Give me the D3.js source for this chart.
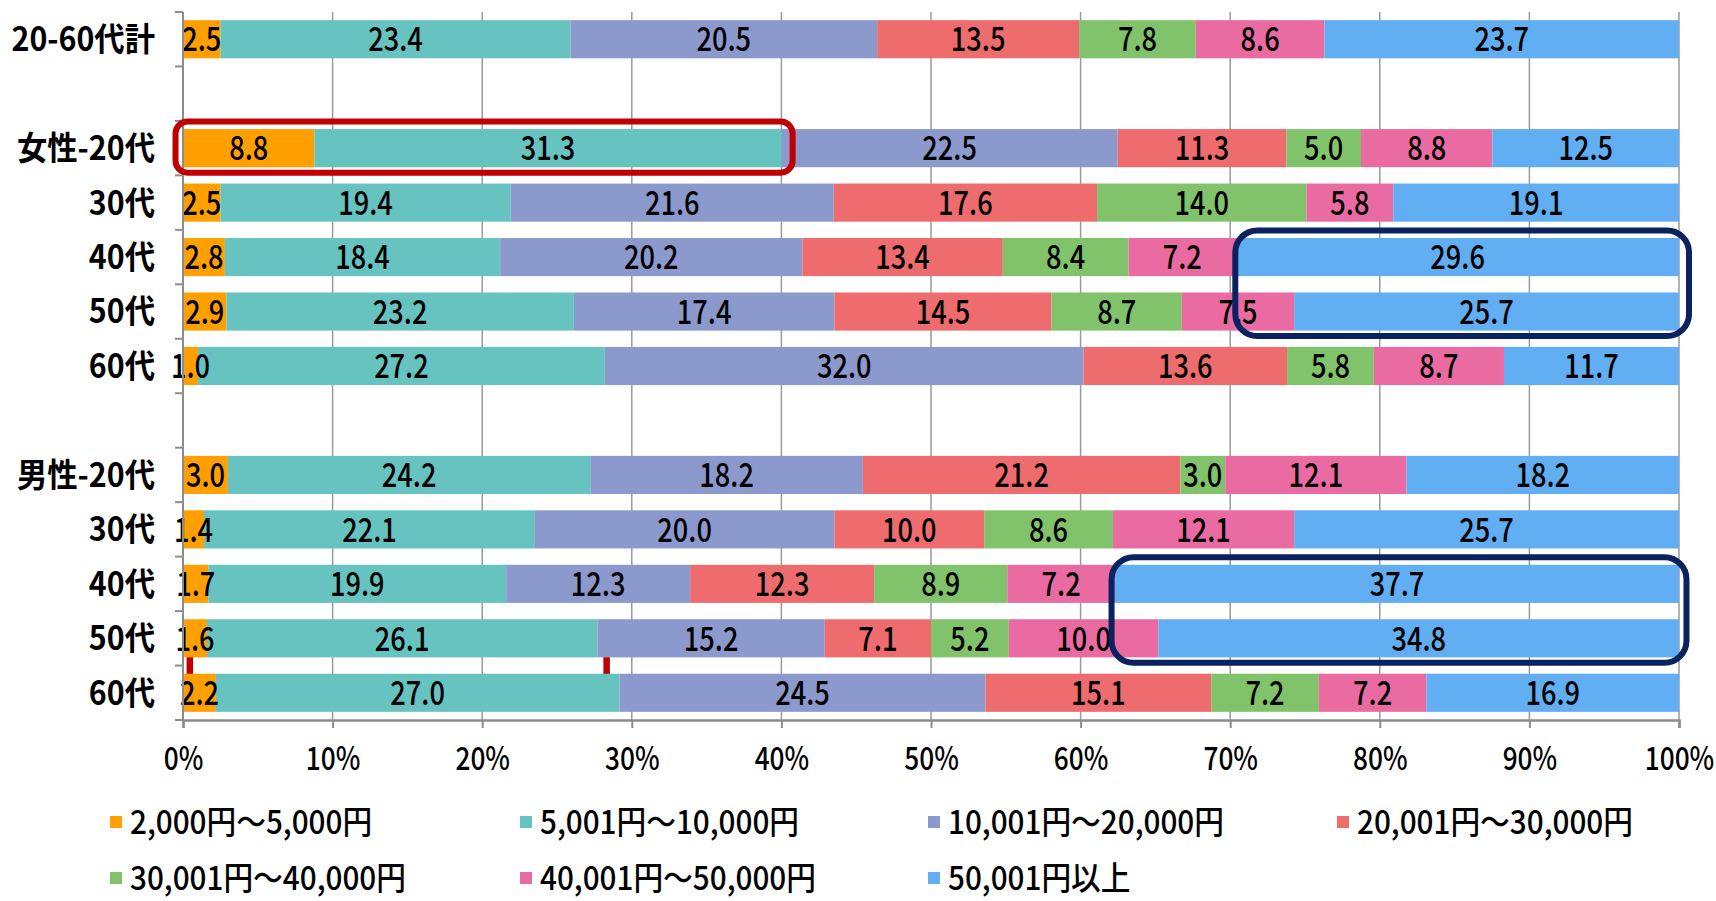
<!DOCTYPE html>
<html>
<head>
<meta charset="utf-8">
<script src="https://cdn.jsdelivr.net/npm/d3@7"></script>
<style>
  html, body { margin: 0; padding: 0; background: #fff; }
  svg { display: block; }
  text { font-family: "Noto Sans CJK JP", "Noto Sans", sans-serif; fill: #000; }
</style>
</head>
<body>
<svg id="chart" width="1716" height="901"></svg>
<script>
// Rows of the chart (empty strings are spacer rows between groups)
const categories = ["20-60代計", "", "女性-20代", "30代", "40代", "50代", "60代", "", "男性-20代", "30代", "40代", "50代", "60代"];

// Monthly amount brackets (series)
const seriesNames = ["2,000円～5,000円", "5,001円～10,000円", "10,001円～20,000円", "20,001円～30,000円", "30,001円～40,000円", "40,001円～50,000円", "50,001円以上"];

// Share (%) per bracket, one value per row
const yen2000to5000   = [2.5, null, 8.8, 2.5, 2.8, 2.9, 1.0, null, 3.0, 1.4, 1.7, 1.6, 2.2];
const yen5001to10000  = [23.4, null, 31.3, 19.4, 18.4, 23.2, 27.2, null, 24.2, 22.1, 19.9, 26.1, 27.0];
const yen10001to20000 = [20.5, null, 22.5, 21.6, 20.2, 17.4, 32.0, null, 18.2, 20.0, 12.3, 15.2, 24.5];
const yen20001to30000 = [13.5, null, 11.3, 17.6, 13.4, 14.5, 13.6, null, 21.2, 10.0, 12.3, 7.1, 15.1];
const yen30001to40000 = [7.8, null, 5.0, 14.0, 8.4, 8.7, 5.8, null, 3.0, 8.6, 8.9, 5.2, 7.2];
const yen40001to50000 = [8.6, null, 8.8, 5.8, 7.2, 7.5, 8.7, null, 12.1, 12.1, 7.2, 10.0, 7.2];
const yen50001plus    = [23.7, null, 12.5, 19.1, 29.6, 25.7, 11.7, null, 18.2, 25.7, 37.7, 34.8, 16.9];

const seriesValues = [yen2000to5000, yen5001to10000, yen10001to20000, yen20001to30000, yen30001to40000, yen40001to50000, yen50001plus];
const seriesColors = ["#FF9F00", "#66C3C0", "#8C99CC", "#EE6C6D", "#80C36A", "#EA6AA2", "#61AEF2"];

// Axis ticks
const xTickValues = [0, 0.1, 0.2, 0.3, 0.4, 0.5, 0.6, 0.7, 0.8, 0.9, 1.0];

// Emphasis frames: row range and share range (fraction of 100%)
const highlights = [
  { rowFrom: 2, rowTo: 2, x0: -0.005, x1: 0.4075, color: "#C00000", r: 12 },
  { rowFrom: 4, rowTo: 5, x0: 0.7034, x1: 1.0067, color: "#0A2260", r: 22 },
  { rowFrom: 10, rowTo: 11, x0: 0.6207, x1: 1.005, color: "#0A2260", r: 22 }
];
// Small red markers in the gap above 男性 60代
const gapMarkers = [0.0024, 0.281];

// ---- layout ----
const W = 1716, H = 901;
const plot = { left: 183, right: 1679, top: 12, bottom: 720 };

const svg = d3.select("#chart");

const rowIds = categories.map((_, i) => i);
const y = d3.scaleBand().domain(rowIds).range([plot.top, plot.bottom]).paddingInner(0.3).paddingOuter(0.15);
const x = d3.scaleLinear().domain([0, 1]).range([plot.left, plot.right]);

// table of rows with data
const rows = rowIds
  .filter(i => seriesValues[0][i] !== null)
  .map(i => {
    const r = { row: i };
    seriesValues.forEach((vals, k) => { r["s" + k] = vals[i]; });
    return r;
  });
const keys = seriesValues.map((_, k) => "s" + k);
const stacked = d3.stack().keys(keys).offset(d3.stackOffsetExpand)(rows);

// helper for horizontally condensed text
function condensedText(g, tx, ty, str, opts) {
  return g.append("text")
    .attr("transform", `translate(${tx},${ty}) scale(${opts.sx},1)`)
    .attr("text-anchor", opts.anchor || "middle")
    .attr("dy", opts.dy || "0.36em")
    .style("font-size", opts.size + "px")
    .style("font-weight", opts.weight || 500)
    .text(str);
}

// gridlines
svg.append("g").selectAll("line")
  .data(xTickValues.slice(1))
  .join("line")
  .attr("x1", d => x(d)).attr("x2", d => x(d))
  .attr("y1", plot.top).attr("y2", plot.bottom)
  .attr("stroke", "#9a9a9a").attr("stroke-width", 1.5);

// red gap markers (behind bars)
const m = 11;
svg.append("g").selectAll("rect")
  .data(gapMarkers)
  .join("rect")
  .attr("x", d => x(d))
  .attr("y", y(m) + y.bandwidth() - 1)
  .attr("width", 6.5)
  .attr("height", y(m + 1) - y(m) - y.bandwidth() + 2)
  .attr("fill", "#C00000");

// bars
const barG = svg.append("g");
stacked.forEach((layer, k) => {
  barG.append("g").attr("fill", seriesColors[k])
    .selectAll("rect")
    .data(layer)
    .join("rect")
    .attr("x", d => x(d[0]))
    .attr("y", d => y(d.data.row))
    .attr("width", d => x(d[1]) - x(d[0]))
    .attr("height", y.bandwidth());
});

// value labels
const labG = svg.append("g");
stacked.forEach((layer, k) => {
  layer.forEach(d => {
    const v = d.data["s" + k];
    condensedText(labG, (x(d[0]) + x(d[1])) / 2, y(d.data.row) + y.bandwidth() / 2, v.toFixed(1), { size: 34, sx: 0.8 });
  });
});

// left axis
const axisColor = "#8c8c8c";
svg.append("line")
  .attr("x1", plot.left).attr("x2", plot.left)
  .attr("y1", plot.top).attr("y2", plot.bottom)
  .attr("stroke", axisColor).attr("stroke-width", 2);
const boundaries = d3.range(0, categories.length + 1).map(i => plot.top + i * y.step());
svg.append("g").selectAll("line")
  .data(boundaries)
  .join("line")
  .attr("x1", plot.left - 8).attr("x2", plot.left)
  .attr("y1", d => d).attr("y2", d => d)
  .attr("stroke", axisColor).attr("stroke-width", 2);

// category labels
const catG = svg.append("g");
categories.forEach((c, i) => {
  if (c) condensedText(catG, 155, y(i) + y.bandwidth() / 2, c, { size: 33, sx: 0.92, anchor: "end", weight: "bold" });
});

// bottom axis
const xAxis = d3.axisBottom(x).tickValues(xTickValues).tickFormat(d3.format(".0%")).tickSize(8).tickPadding(0);
const xg = svg.append("g").attr("transform", `translate(0,${plot.bottom})`).call(xAxis);
xg.select(".domain").attr("stroke", axisColor).attr("stroke-width", 2.5);
xg.selectAll(".tick line").attr("stroke", axisColor).attr("stroke-width", 2);
xg.selectAll(".tick text").remove();
xg.selectAll(".tick").each(function (d) {
  condensedText(d3.select(this), 0, 38, d3.format(".0%")(d), { size: 32, sx: 0.82 });
});

// emphasis frames
const padTop = 7.5, padBottom = 5.5;
svg.append("g").selectAll("rect")
  .data(highlights)
  .join("rect")
  .attr("x", d => x(d.x0))
  .attr("y", d => y(d.rowFrom) - padTop)
  .attr("width", d => x(d.x1) - x(d.x0))
  .attr("height", d => y(d.rowTo) + y.bandwidth() - y(d.rowFrom) + padTop + padBottom)
  .attr("rx", d => d.r)
  .attr("fill", "none")
  .attr("stroke", d => d.color)
  .attr("stroke-width", 6);

// legend
const legendCols = [110, 520, 928, 1337];
const legendRows = [822, 878];
const lg = svg.append("g");
seriesNames.forEach((name, k) => {
  const lx = legendCols[k % 4], ly = legendRows[Math.floor(k / 4)];
  lg.append("rect").attr("x", lx).attr("y", ly - 6).attr("width", 12).attr("height", 12).attr("fill", seriesColors[k]);
  condensedText(lg, lx + 20, ly, name, { size: 33, sx: 0.9, anchor: "start" });
});
</script>
</body>
</html>
